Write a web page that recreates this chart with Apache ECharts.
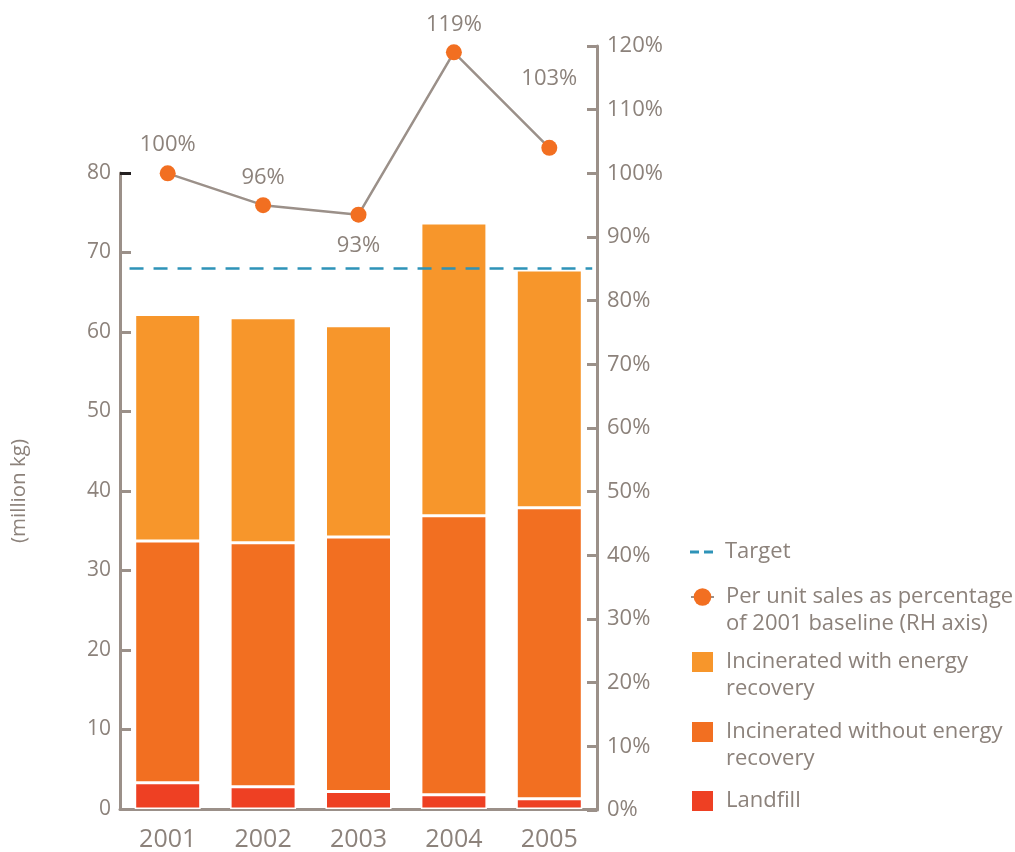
<!DOCTYPE html>
<html><head><meta charset="utf-8">
<script src="https://cdn.jsdelivr.net/npm/echarts@6/dist/echarts.min.js"></script>
<style>html,body{margin:0;padding:0;background:#fff}#c{width:1015px;height:852px}</style>
</head><body><div id="c"></div>
<script>
const years = ['2001','2002','2003','2004','2005'];
const landfill = [3.3, 2.8, 2.2, 1.8, 1.3];
const withoutRecovery = [30.4, 30.7, 32.0, 35.1, 36.6];
const withRecovery = [28.5, 28.3, 26.6, 36.8, 29.9];
const perUnitPct = [100, 95, 93.5, 119, 104];
const perUnitLabels = ['100%', '96%', '93%', '119%', '103%'];
const targetValue = 68;
const leftTicks = [0, 10, 20, 30, 40, 50, 60, 70, 80];
const rightTicks = [0, 10, 20, 30, 40, 50, 60, 70, 80, 90, 100, 110, 120];

const TXT = '#8c827b', AX = '#9b9089', FONT = 'Open Sans';
const C_WITH = '#f7962b', C_WITHOUT = '#f26f21', C_LAND = '#ee4023', C_TARGET = '#2e93b8';

const N_TARGET = 'Target';
const N_PCT = 'Per unit sales as percentage\nof 2001 baseline (RH axis)';
const N_WITH = 'Incinerated with energy\nrecovery';
const N_WITHOUT = 'Incinerated without energy\nrecovery';
const N_LAND = 'Landfill';

const labelCfg = [
  {position: 'top', distance: 10},
  {position: 'top', distance: 8},
  {position: 'bottom', distance: 12},
  {position: 'top', distance: 9},
  {position: 'top', distance: 50}
];

function legendFmt(name) {
  const lines = name.split('\n');
  const out = lines.map(l => '{s|}' + l);
  if (lines.length > 1) out.unshift('{s|}');
  return out.join('\n');
}

const chart = echarts.init(document.getElementById('c'));
function mkLegend(top, item, extra) {
  return Object.assign({
    orient: 'vertical', left: 690, top: top, padding: 0, itemWidth: 23, itemHeight: 22,
    data: [item], formatter: legendFmt,
    textStyle: {color: TXT, fontSize: 22, fontFamily: FONT, lineHeight: 27,
      rich: {s: {width: 7, lineHeight: 27}}}
  }, extra || {});
}
chart.setOption({
  animation: false,
  textStyle: {fontFamily: FONT},
  grid: [
    {left: 120, right: 418, top: 173, bottom: 42},
    {left: 120, right: 418, top: 46, bottom: 42}
  ],
  legend: [
    mkLegend(538.5, {name: N_TARGET, icon: 'path://M0,0h9v3h-9zM14,0h9v3h-9z'}, {itemHeight: 3}),
    mkLegend(556.5, {name: N_PCT}),
    mkLegend(621.5, {name: N_WITH, icon: 'rect'}),
    mkLegend(691.5, {name: N_WITHOUT, icon: 'rect'}),
    mkLegend(787.5, {name: N_LAND, icon: 'rect'})
  ],
  xAxis: [
    {type: 'category', gridIndex: 0, data: years,
     axisLine: {lineStyle: {color: AX, width: 3}},
     axisTick: {inside: true, length: 12, lineStyle: {color: AX, width: 3}},
     axisLabel: {color: TXT, fontSize: 25, margin: 18}},
    {type: 'category', gridIndex: 1, data: years, show: false},
    {type: 'value', gridIndex: 0, min: 0, max: 1, show: false}
  ],
  yAxis: [
    {type: 'value', gridIndex: 0, min: leftTicks[0], max: leftTicks[leftTicks.length - 1], interval: 10,
     name: '(million kg)', nameLocation: 'middle', nameGap: 90,
     nameTextStyle: {color: TXT, fontSize: 20.5, fontFamily: FONT},
     splitLine: {show: false},
     axisLine: {show: true, lineStyle: {color: AX, width: 3}},
     axisTick: {show: true, inside: true, length: 11, lineStyle: {color: AX, width: 3}},
     axisLabel: {color: TXT, fontSize: 21, margin: 9}},
    {type: 'value', gridIndex: 1, position: 'right', min: rightTicks[0], max: rightTicks[rightTicks.length - 1], interval: 10,
     splitLine: {show: false},
     axisLine: {show: true, lineStyle: {color: AX, width: 3}},
     axisTick: {show: true, inside: true, length: 10, lineStyle: {color: AX, width: 3}},
     axisLabel: {color: TXT, fontSize: 22, margin: 10, formatter: '{value}%'}},
    {type: 'value', gridIndex: 0, position: 'left', offset: 0, min: leftTicks[0], max: leftTicks[leftTicks.length - 1], interval: 10,
     splitLine: {show: false}, axisLine: {show: false}, axisLabel: {show: false},
     axisTick: {show: true, inside: true, length: 11, customValues: [leftTicks[leftTicks.length - 1]], lineStyle: {color: '#231f20', width: 3}}}
  ],
  series: [
    {name: N_LAND, type: 'bar', stack: 'w', xAxisIndex: 0, yAxisIndex: 0, barWidth: 66,
     itemStyle: {color: C_LAND, borderColor: '#fff', borderWidth: 1.5}, data: landfill},
    {name: N_WITHOUT, type: 'bar', stack: 'w', xAxisIndex: 0, yAxisIndex: 0, barWidth: 66,
     itemStyle: {color: C_WITHOUT, borderColor: '#fff', borderWidth: 1.5}, data: withoutRecovery},
    {name: N_WITH, type: 'bar', stack: 'w', xAxisIndex: 0, yAxisIndex: 0, barWidth: 66,
     itemStyle: {color: C_WITH, borderColor: '#fff', borderWidth: 1.5}, data: withRecovery},
    {name: N_TARGET, type: 'line', xAxisIndex: 2, yAxisIndex: 0, symbol: 'none',
     lineStyle: {color: C_TARGET, width: 2.5, type: [14, 10]}, itemStyle: {color: C_TARGET},
     data: [[0.02, targetValue], [0.99, targetValue]], z: 5},
    {name: N_PCT, type: 'line', xAxisIndex: 1, yAxisIndex: 1,
     symbol: 'circle', symbolSize: 16,
     lineStyle: {color: AX, width: 2.5}, itemStyle: {color: C_WITHOUT},
     data: perUnitPct.map((v, i) => ({
       value: v,
       label: {show: true, position: labelCfg[i].position, distance: labelCfg[i].distance,
               formatter: perUnitLabels[i], color: TXT, fontSize: 22, fontFamily: FONT}
     })), z: 10}
  ]
});
</script></body></html>
